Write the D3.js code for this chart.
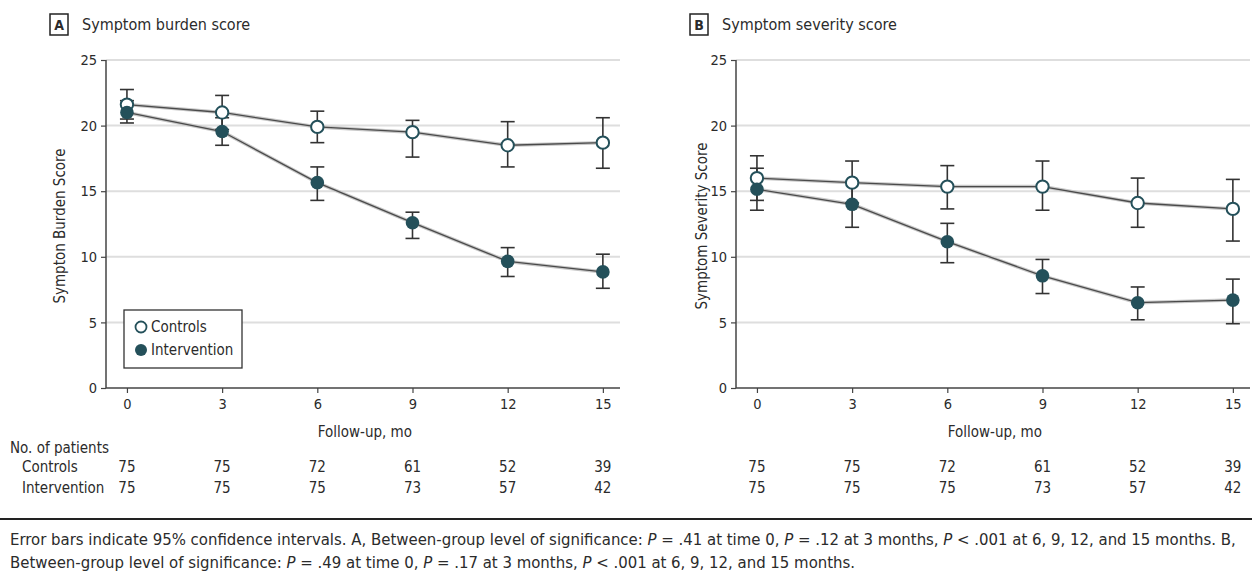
<!DOCTYPE html>
<html>
<head>
<meta charset="utf-8">
<script src="https://cdn.jsdelivr.net/npm/d3@7"></script>
<style>
  body { margin: 0; background: #fff; }
  svg text { font-family: "Liberation Sans Narrow", "DejaVu Sans Condensed", "Arial Narrow", sans-serif; fill: #2b2b2b; }
</style>
</head>
<body>
<div id="chart"></div>
<script>
const width = 1252;
const height = 583;

// follow-up months
const months = [0, 3, 6, 9, 12, 15];
const yTicks = [0, 5, 10, 15, 20, 25];

// A: symptom burden score (mean, 95% CI)
const burdenControls = [21.6, 21.0, 19.9, 19.5, 18.5, 18.7];
const burdenControlsLo = [20.5, 19.7, 18.7, 17.6, 16.85, 16.75];
const burdenControlsHi = [22.75, 22.3, 21.1, 20.4, 20.3, 20.6];
const burdenIntervention = [21.0, 19.55, 15.65, 12.6, 9.65, 8.85];
const burdenInterventionLo = [20.2, 18.5, 14.3, 11.4, 8.5, 7.6];
const burdenInterventionHi = [21.9, 20.6, 16.85, 13.4, 10.7, 10.2];

// B: symptom severity score (mean, 95% CI)
const severityControls = [16.0, 15.65, 15.35, 15.35, 14.1, 13.65];
const severityControlsLo = [14.3, 14.1, 13.65, 13.55, 12.25, 11.2];
const severityControlsHi = [17.7, 17.3, 16.95, 17.3, 16.0, 15.9];
const severityIntervention = [15.15, 14.0, 11.15, 8.55, 6.5, 6.7];
const severityInterventionLo = [13.55, 12.25, 9.55, 7.2, 5.2, 4.9];
const severityInterventionHi = [16.75, 15.7, 12.55, 9.8, 7.7, 8.3];

// number of patients
const controlsN = [75, 75, 72, 61, 52, 39];
const interventionN = [75, 75, 75, 73, 57, 42];

const teal = "#24505a";

const svg = d3.select("#chart")
  .append("svg")
  .attr("width", width)
  .attr("height", height);

function series(mean, lo, hi) {
  return months.map((m, i) => ({ m: m, v: mean[i], lo: lo[i], hi: hi[i] }));
}

function drawPanel(opt) {
  const x = d3.scaleLinear().domain([-0.66, 15.54]).range([opt.left, opt.right]);
  const y = d3.scaleLinear().domain([0, 25]).range([388, 60]);

  const g = svg.append("g");

  // panel letter box + title
  g.append("rect")
    .attr("x", opt.boxX).attr("y", 14)
    .attr("width", 18).attr("height", 21)
    .attr("fill", "none").attr("stroke", "#222").attr("stroke-width", 1.5);
  g.append("text")
    .attr("x", opt.boxX + 9).attr("y", 30)
    .attr("text-anchor", "middle")
    .style("font-size", "14px").style("font-weight", "bold")
    .text(opt.letter);
  g.append("text")
    .attr("x", opt.boxX + 32).attr("y", 30)
    .style("font-size", "16px")
    .text(opt.title);

  // gridlines
  g.selectAll(".grid")
    .data(yTicks.filter(d => d > 0))
    .join("line")
      .attr("x1", opt.left).attr("x2", opt.right)
      .attr("y1", d => y(d)).attr("y2", d => y(d))
      .style("stroke", "#dedede")
      .style("stroke-width", 2);

  // axes
  const yAxis = g.append("g")
    .attr("transform", `translate(${opt.left},0)`)
    .call(d3.axisLeft(y).tickValues(yTicks).tickSize(5).tickPadding(4));
  const xAxis = g.append("g")
    .attr("transform", `translate(0,388)`)
    .call(d3.axisBottom(x).tickValues(months).tickSize(5).tickPadding(6));
  [yAxis, xAxis].forEach(a => {
    a.select(".domain").attr("stroke", "#444").attr("stroke-width", 1.5);
    a.selectAll(".tick line").attr("stroke", "#444").attr("stroke-width", 1.2);
    a.selectAll(".tick text").style("font-size", "14.5px").attr("fill", "#2b2b2b").attr("font-family", null);
  });
  yAxis.select(".domain").attr("d", `M0,${y(25)}V388`);
  xAxis.select(".domain").attr("d", `M${opt.left},0H${opt.right}`);

  g.append("text")
    .attr("transform", `translate(${opt.left - opt.labelOffset},${(y(0) + y(25)) / 2 + 2}) rotate(-90)`)
    .attr("text-anchor", "middle")
    .style("font-size", "15px")
    .text(opt.yLabel);

  g.append("text")
    .attr("x", (x(0) + x(15)) / 2).attr("y", 437)
    .attr("text-anchor", "middle")
    .style("font-size", "15px")
    .text("Follow-up, mo");

  const line = d3.line().x(d => x(d.m)).y(d => y(d.v));

  [opt.controls, opt.intervention].forEach(s => {
    // line with soft halo
    g.append("path").datum(s).attr("d", line)
      .attr("fill", "none").attr("stroke", "#c8c8c8").attr("stroke-width", 3.5);
    g.append("path").datum(s).attr("d", line)
      .attr("fill", "none").attr("stroke", "#4a4a4a").attr("stroke-width", 1.3);
  });

  [opt.controls, opt.intervention].forEach(s => {
    const eb = g.append("g");
    eb.selectAll(".stem").data(s).join("line")
      .attr("x1", d => x(d.m)).attr("x2", d => x(d.m))
      .attr("y1", d => y(d.lo)).attr("y2", d => y(d.hi))
      .attr("stroke", "#333").attr("stroke-width", 1.6);
    ["lo", "hi"].forEach(key => {
      eb.selectAll(".cap-" + key).data(s).join("line")
        .attr("x1", d => x(d.m) - 7).attr("x2", d => x(d.m) + 7)
        .attr("y1", d => y(d[key])).attr("y2", d => y(d[key]))
        .attr("stroke", "#333").attr("stroke-width", 1.6);
    });
  });

  g.selectAll(".ctl").data(opt.controls).join("circle")
    .attr("cx", d => x(d.m)).attr("cy", d => y(d.v)).attr("r", 6.2)
    .attr("fill", "#fff").attr("stroke", teal).attr("stroke-width", 2);
  g.selectAll(".int").data(opt.intervention).join("circle")
    .attr("cx", d => x(d.m)).attr("cy", d => y(d.v)).attr("r", 6.8)
    .attr("fill", teal);

  // patient numbers
  [controlsN, interventionN].forEach((arr, r) => {
    g.selectAll(".n" + r).data(arr).join("text")
      .attr("x", (d, i) => x(months[i]))
      .attr("y", 472 + r * 21)
      .attr("text-anchor", "middle")
      .style("font-size", "15px")
      .text(d => d);
  });

  return { g, x, y };
}

drawPanel({
  left: 106, right: 620, boxX: 50, letter: "A", labelOffset: 41,
  title: "Symptom burden score", yLabel: "Sympton Burden Score",
  controls: series(burdenControls, burdenControlsLo, burdenControlsHi),
  intervention: series(burdenIntervention, burdenInterventionLo, burdenInterventionHi)
});

drawPanel({
  left: 736, right: 1250, boxX: 690, letter: "B", labelOffset: 29,
  title: "Symptom severity score", yLabel: "Symptom Severity Score",
  controls: series(severityControls, severityControlsLo, severityControlsHi),
  intervention: series(severityIntervention, severityInterventionLo, severityInterventionHi)
});

// legend in panel A
const legend = svg.append("g");
legend.append("rect")
  .attr("x", 124).attr("y", 310).attr("width", 118).attr("height", 58)
  .attr("fill", "#fff").attr("stroke", "#333").attr("stroke-width", 1.3);
legend.append("circle").attr("cx", 141).attr("cy", 327).attr("r", 5.5)
  .attr("fill", "#fff").attr("stroke", teal).attr("stroke-width", 1.8);
legend.append("circle").attr("cx", 141).attr("cy", 350).attr("r", 6)
  .attr("fill", teal);
legend.append("text").attr("x", 151).attr("y", 332).style("font-size", "15px").text("Controls");
legend.append("text").attr("x", 151).attr("y", 355).style("font-size", "15px").text("Intervention");

// number of patients labels
svg.append("text").attr("x", 10).attr("y", 453).style("font-size", "15px").text("No. of patients");
svg.append("text").attr("x", 22).attr("y", 472).style("font-size", "15px").text("Controls");
svg.append("text").attr("x", 22).attr("y", 493).style("font-size", "15px").text("Intervention");

// footnote
svg.append("line")
  .attr("x1", 0).attr("x2", width).attr("y1", 519).attr("y2", 519)
  .attr("stroke", "#222").attr("stroke-width", 2);

const caption1 = [
  ["Error bars indicate 95% confidence intervals. A, Between-group level of significance: ", false],
  ["P", true], [" = .41 at time 0, ", false], ["P", true], [" = .12 at 3 months, ", false],
  ["P", true], [" < .001 at 6, 9, 12, and 15 months. B,", false]
];
const caption2 = [
  ["Between-group level of significance: ", false], ["P", true], [" = .49 at time 0, ", false],
  ["P", true], [" = .17 at 3 months, ", false], ["P", true], [" < .001 at 6, 9, 12, and 15 months.", false]
];

[caption1, caption2].forEach((parts, i) => {
  const t = svg.append("text")
    .attr("x", 10).attr("y", 545 + i * 23)
    .style("font-size", "16.6px");
  t.selectAll("tspan").data(parts).join("tspan")
    .style("font-style", d => d[1] ? "italic" : "normal")
    .text(d => d[0]);
});
</script>
</body>
</html>
